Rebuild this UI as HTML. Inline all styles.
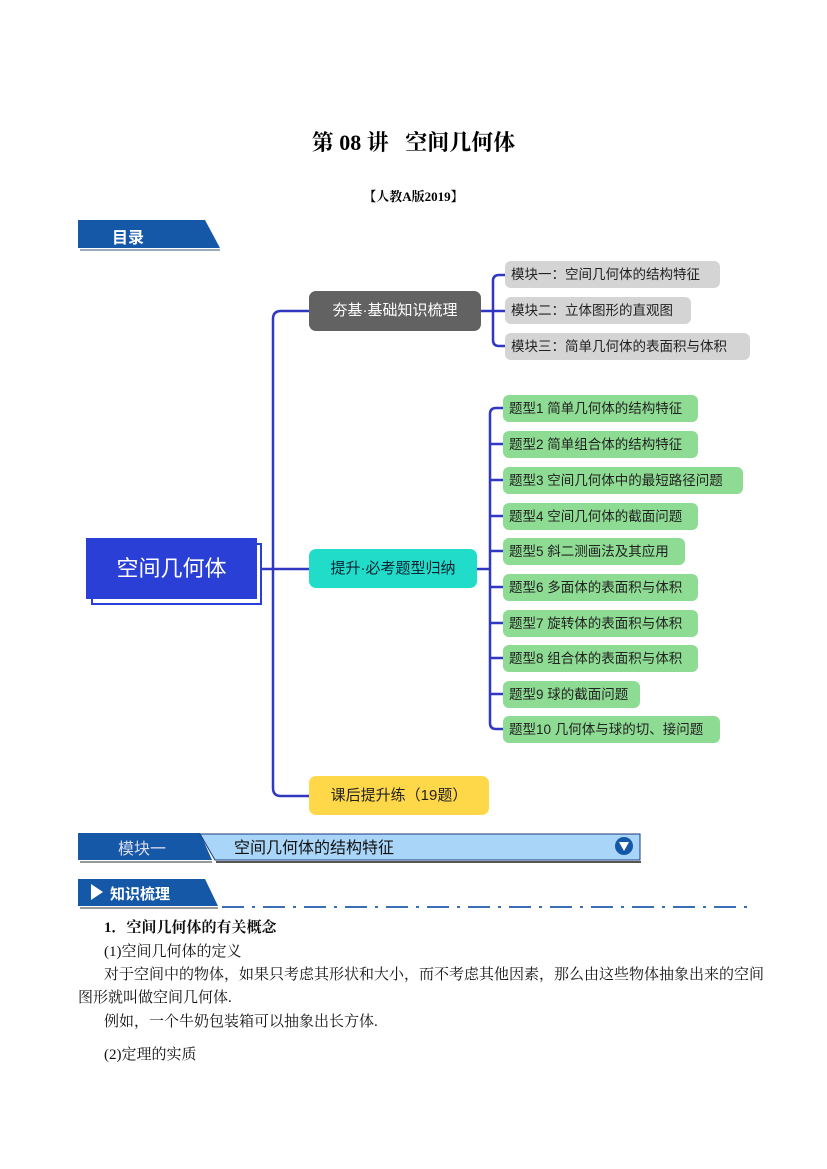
<!DOCTYPE html>
<html><head><meta charset="utf-8"><style>
body{margin:0;width:827px;height:1169px;background:#fff;position:relative;font-family:"Liberation Sans","Noto Sans CJK SC",sans-serif;overflow:hidden}
.a{position:absolute;white-space:nowrap}
.lf{position:absolute;height:27px;line-height:27px;border-radius:6px;font-size:13.5px;color:#222;padding-left:6px;box-sizing:border-box}
.g{background:#d4d4d4}.gr{background:#8edb93}
.t{font-family:"Liberation Serif","Noto Serif CJK SC",serif;font-size:15px;color:#111}
</style></head><body>
<div class="a" style="left:0;width:827px;top:126px;text-align:center;font-size:22px;font-weight:bold;font-family:'Liberation Serif','Noto Serif CJK SC',serif">第 08 讲&nbsp;&nbsp;&nbsp;空间几何体</div>
<div class="a" style="left:0;width:827px;top:186px;text-align:center;font-size:13px;font-weight:bold;font-family:'Liberation Serif','Noto Serif CJK SC',serif">【人教A版2019】</div>

<svg class="a" style="left:0;top:0" width="827" height="1169">
<polygon points="78,220 205,220 220,248 78,248" fill="#1558a8"/>
<line x1="80" y1="250" x2="220" y2="250" stroke="#9ab" stroke-width="2"/>
<g fill="none" stroke="#3037c0" stroke-width="2.5">
<path d="M309,311 H281 Q273,311 273,319 V788 Q273,796 281,796 H309"/>
<line x1="262" y1="569" x2="309" y2="569"/>
<line x1="481" y1="311" x2="493" y2="311"/>
<path d="M505,275 H499 Q493,275 493,281 V340 Q493,346 499,346 H505"/>
<line x1="493" y1="311" x2="505" y2="311"/>
<line x1="477" y1="569" x2="490" y2="569"/>
<path d="M503,408 H496 Q490,408 490,414 V723 Q490,729 496,729 H503"/>
<path d="M490,444H503M490,480H503M490,516H503M490,551H503M490,587H503M490,623H503M490,658H503M490,694H503"/>
</g>
<polygon points="78,833 200,833 212,860 78,860" fill="#1558a8"/>
<line x1="80" y1="862" x2="212" y2="862" stroke="#999" stroke-width="2"/>
<polygon points="200,834 640,834 640,860 215,860" fill="#a9d5f8" stroke="#1a3a7a" stroke-width="1"/>
<line x1="216" y1="862" x2="641" y2="862" stroke="#555" stroke-width="2"/>
<circle cx="624" cy="846" r="9" fill="#1558a8"/>
<polygon points="619,842 629,842 624,851" fill="#fff"/>
<polygon points="78,879 205,879 218,906 78,906" fill="#1558a8"/>
<line x1="80" y1="908" x2="218" y2="908" stroke="#999" stroke-width="2"/>
<polygon points="91,884 103,892 91,900" fill="#fff"/>
<line x1="222" y1="907" x2="748" y2="907" stroke="#3a6fb8" stroke-width="2" stroke-dasharray="22,8,3,8"/>
</svg>
<div class="a" style="left:112px;top:224px;font-size:16px;font-weight:bold;color:#fff">目录</div>
<div class="a" style="left:110px;top:883px;font-size:15px;font-weight:bold;color:#fff">知识梳理</div>
<div class="a" style="left:118px;top:835px;font-size:16px;color:#dde">模块一</div>
<div class="a" style="left:234px;top:834px;font-size:16px;color:#111">空间几何体的结构特征</div>

<div class="a" style="left:91px;top:543px;width:167px;height:58px;border:2px solid #2a3fd6;background:#fff"></div>
<div class="a" style="left:86px;top:538px;width:171px;height:61px;background:#2a3fd6;color:#fff;font-size:22px;line-height:61px;text-align:center">空间几何体</div>

<div class="a" style="left:309px;top:291px;width:172px;height:40px;border-radius:7px;background:#626262;color:#fff;font-size:15px;line-height:40px;text-align:center">夯基·基础知识梳理</div>
<div class="a" style="left:309px;top:549px;width:168px;height:39px;border-radius:7px;background:#20dcc8;color:#123;font-size:15px;line-height:39px;text-align:center">提升·必考题型归纳</div>
<div class="a" style="left:309px;top:776px;width:180px;height:39px;border-radius:7px;background:#ffd84a;color:#222;font-size:15px;line-height:39px;text-align:center">课后提升练（19题）</div>

<div class="lf g" style="left:505px;top:261px;width:215px">模块一：空间几何体的结构特征</div>
<div class="lf g" style="left:505px;top:297px;width:186px">模块二：立体图形的直观图</div>
<div class="lf g" style="left:505px;top:333px;width:245px">模块三：简单几何体的表面积与体积</div>

<div class="lf gr" style="left:503px;top:395px;width:195px">题型1 简单几何体的结构特征</div>
<div class="lf gr" style="left:503px;top:431px;width:195px">题型2 简单组合体的结构特征</div>
<div class="lf gr" style="left:503px;top:467px;width:240px">题型3 空间几何体中的最短路径问题</div>
<div class="lf gr" style="left:503px;top:503px;width:195px">题型4 空间几何体的截面问题</div>
<div class="lf gr" style="left:503px;top:538px;width:182px">题型5 斜二测画法及其应用</div>
<div class="lf gr" style="left:503px;top:574px;width:195px">题型6 多面体的表面积与体积</div>
<div class="lf gr" style="left:503px;top:610px;width:195px">题型7 旋转体的表面积与体积</div>
<div class="lf gr" style="left:503px;top:645px;width:195px">题型8 组合体的表面积与体积</div>
<div class="lf gr" style="left:503px;top:681px;width:137px">题型9 球的截面问题</div>
<div class="lf gr" style="left:503px;top:716px;width:217px">题型10 几何体与球的切、接问题</div>

<div class="a t" style="left:104px;top:916px;font-weight:bold">1．空间几何体的有关概念</div>
<div class="a t" style="left:104px;top:940px">(1)空间几何体的定义</div>
<div class="a t" style="left:104px;top:963px">对于空间中的物体，如果只考虑其形状和大小，而不考虑其他因素，那么由这些物体抽象出来的空间</div>
<div class="a t" style="left:78px;top:986px">图形就叫做空间几何体.</div>
<div class="a t" style="left:104px;top:1010px">例如，一个牛奶包装箱可以抽象出长方体.</div>
<div class="a t" style="left:104px;top:1043px">(2)定理的实质</div>
</body></html>
